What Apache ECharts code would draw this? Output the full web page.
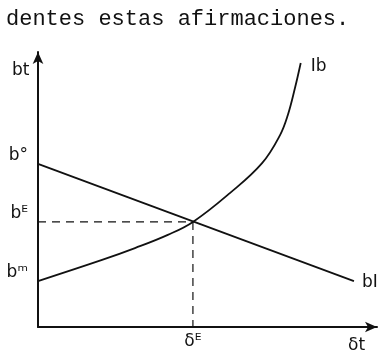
<!DOCTYPE html>
<html>
<head>
<meta charset="utf-8">
<script src="https://cdn.jsdelivr.net/npm/echarts@6/dist/echarts.min.js"></script>
<style>
  html, body { margin: 0; padding: 0; background: #fff; }
  #main { width: 380px; height: 358px; }
</style>
</head>
<body>
<div id="main"></div>
<script>
// curva Ib (creciente)
var ibX = [0, 18.9, 28.6, 38.3, 45.7, 56.6, 66.1, 71.4, 73.7, 75.8, 77.5];
var ibY = [16.7, 24.4, 28.7, 33.5, 38.2, 48.7, 59.6, 69.8, 77.1, 86.9, 96.0];
// recta bI (decreciente)
var biX = [0, 93.2];
var biY = [59.3, 16.7];
// equilibrio
var eqX = 45.7;
var eqY = 38.2;
// marcas de los ejes
var yTicks = [59.3, 38.2, 16.7];
var yTickLabels = ["b°", "bᴱ", "bᵐ"];
var xTicks = [45.7];
var xTickLabels = ["δᴱ"];

var myChart = echarts.init(document.getElementById("main"));

function pairs(xs, ys) {
  return xs.map(function (x, i) { return [x, ys[i]]; });
}

var option = {
  animation: false,
  backgroundColor: "#fff",
  grid: { left: 38, right: 3, top: 52, bottom: 31 },
  xAxis: {
    type: "value", min: 0, max: 100,
    axisLine: { lineStyle: { color: "#111", width: 2 }, symbol: ["none", "arrow"], symbolSize: [8, 12] },
    axisTick: { show: false },
    splitLine: { show: false },
    axisLabel: {
      customValues: xTicks,
      formatter: function (v) { return xTickLabels[xTicks.indexOf(v)] || ""; },
      margin: 6,
      fontFamily: "DejaVu Sans", fontSize: 17, color: "#111"
    }
  },
  yAxis: {
    type: "value", min: 0, max: 100,
    axisLine: { lineStyle: { color: "#111", width: 2 }, symbol: ["none", "arrow"], symbolSize: [8, 12] },
    axisTick: { show: false },
    splitLine: { show: false },
    axisLabel: {
      customValues: yTicks,
      formatter: function (v) { return yTickLabels[yTicks.indexOf(v)] || ""; },
      margin: 10,
      verticalAlign: "bottom",
      fontFamily: "DejaVu Sans", fontSize: 17, color: "#111"
    }
  },
  graphic: [
    { type: "text", left: 6, top: 8,
      style: { text: "dentes estas afirmaciones.", font: "22px 'Liberation Mono'", fill: "#111" } },
    { type: "text", left: 12, top: 62, style: { text: "bt", font: "17px 'DejaVu Sans'", fill: "#111" } },
    { type: "text", left: 348, top: 337, style: { text: "δt", font: "17px 'DejaVu Sans'", fill: "#111" } }
  ],
  series: [
    {
      name: "Ib", type: "line", smooth: 0.4, showSymbol: false,
      data: pairs(ibX, ibY),
      lineStyle: { color: "#111", width: 1.8 },
      endLabel: { show: true, formatter: "Ib", offset: [2, 4], fontFamily: "DejaVu Sans", fontSize: 17, color: "#111" }
    },
    {
      name: "bI", type: "line", showSymbol: false,
      data: pairs(biX, biY),
      lineStyle: { color: "#111", width: 1.8 },
      endLabel: { show: true, formatter: "bI", offset: [0, 2], fontFamily: "DejaVu Sans", fontSize: 17, color: "#111" }
    },
    {
      name: "h", type: "line", showSymbol: false,
      data: [[0, eqY], [eqX, eqY]],
      lineStyle: { color: "#111", width: 1.2, type: [8, 6] }
    },
    {
      name: "v", type: "line", showSymbol: false,
      data: [[eqX, eqY], [eqX, 0]],
      lineStyle: { color: "#111", width: 1.2, type: [8, 6] }
    }
  ]
};
myChart.setOption(option);
</script>
</body>
</html>
